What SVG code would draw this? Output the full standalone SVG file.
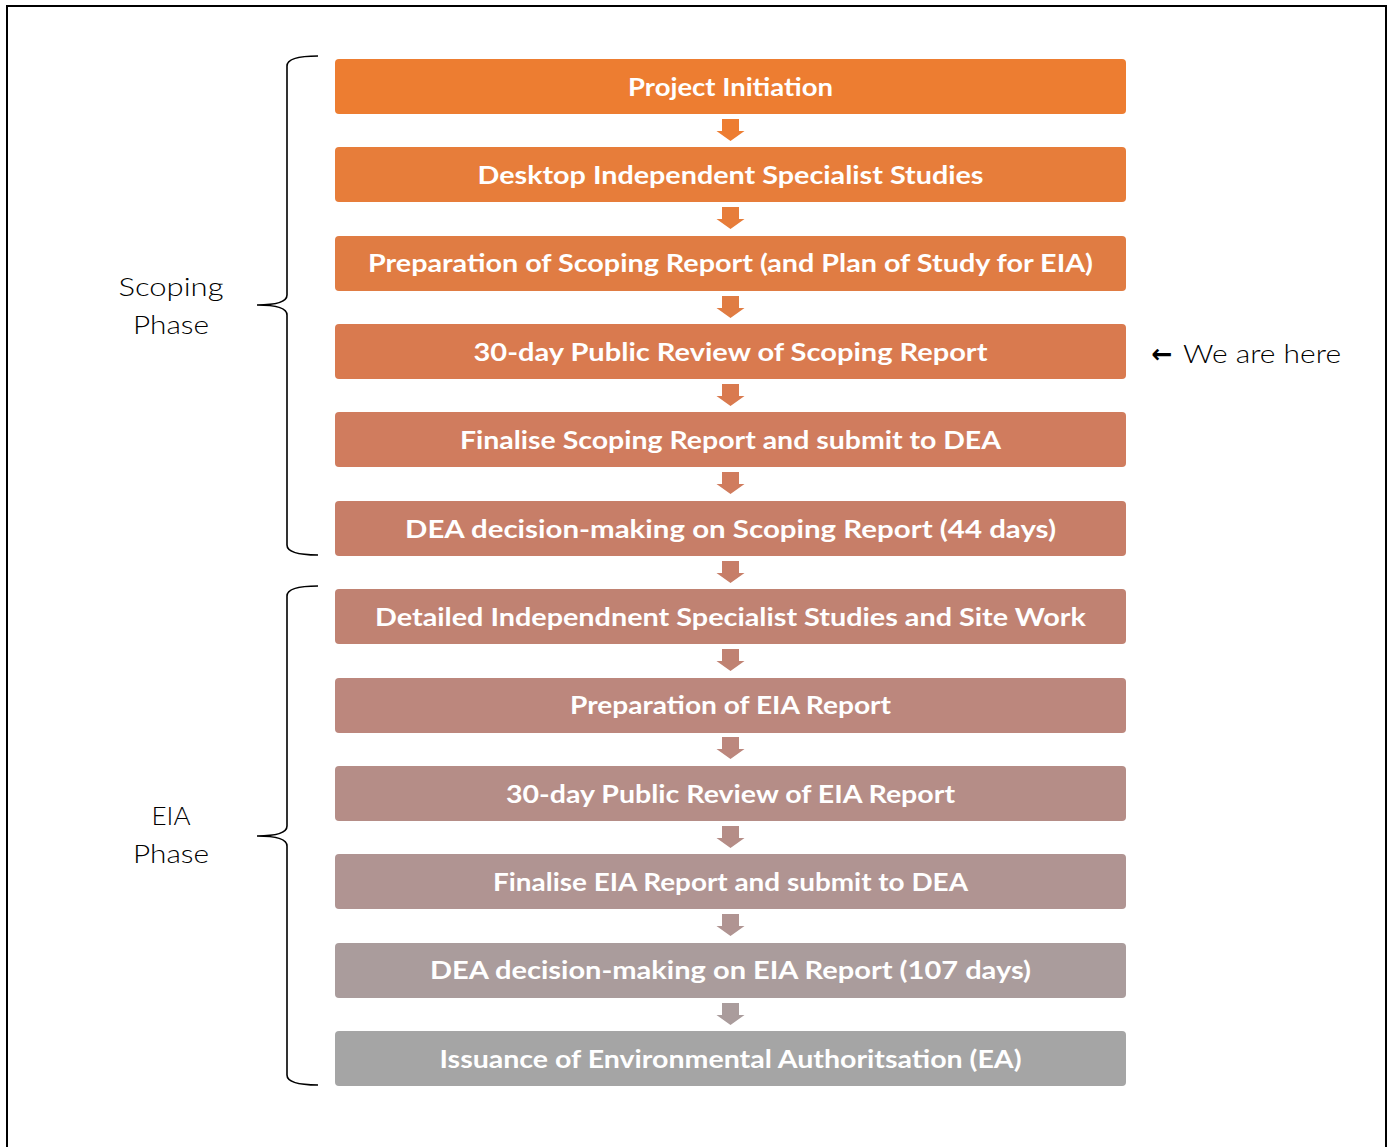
<svg xmlns="http://www.w3.org/2000/svg" width="1392" height="1147" viewBox="0 0 1392 1147">
<style>
.box{stroke:none}
.bt{font-family:"Century Gothic","Lato","Open Sans",sans-serif;font-weight:bold;font-size:25px;fill:#ffffff;text-anchor:middle}
.lbl{font-family:"Century Gothic","Lato","Open Sans",sans-serif;font-weight:300;font-size:26px;fill:#000000;text-anchor:middle}
.brace{fill:none;stroke:#000;stroke-width:1.6}
</style>
<defs>
<path id="arr" d="M-8.5,0 H8.5 V12 H14 L0,22 L-14,12 H-8.5 Z"/>
</defs>
<rect x="0" y="0" width="1392" height="1147" fill="#fff"/>
<rect x="7" y="6" width="1379" height="1160" fill="none" stroke="#000" stroke-width="2"/>

<g id="braces">
<path class="brace" d="M318,56 Q287,56 287,66 L287,295 Q287,305 257,305 Q287,305 287,315 L287,545 Q287,555 318,555"/>
<path class="brace" d="M318,586 Q287,586 287,596 L287,826 Q287,836 257,836 Q287,836 287,846 L287,1075 Q287,1085 318,1085"/>
</g>
<g id="phase-labels">
<text class="lbl" x="171" y="296" textLength="105" lengthAdjust="spacingAndGlyphs">Scoping</text>
<text class="lbl" x="171" y="334" textLength="76" lengthAdjust="spacingAndGlyphs">Phase</text>
<text class="lbl" x="171" y="825" textLength="39" lengthAdjust="spacingAndGlyphs">EIA</text>
<text class="lbl" x="171" y="863" textLength="76" lengthAdjust="spacingAndGlyphs">Phase</text>
</g>

<g id="connectors">
<use href="#arr" x="730.5" y="119" fill="#ED7D31"/>
<use href="#arr" x="730.5" y="207" fill="#E77D3A"/>
<use href="#arr" x="730.5" y="296" fill="#E07C43"/>
<use href="#arr" x="730.5" y="384" fill="#D97A4F"/>
<use href="#arr" x="730.5" y="472" fill="#D07C5E"/>
<use href="#arr" x="730.5" y="561" fill="#C77E68"/>
<use href="#arr" x="730.5" y="649" fill="#C08272"/>
<use href="#arr" x="730.5" y="737" fill="#BC877D"/>
<use href="#arr" x="730.5" y="826" fill="#B58D87"/>
<use href="#arr" x="730.5" y="914" fill="#B09492"/>
<use href="#arr" x="730.5" y="1003" fill="#AA9C9C"/>
</g>

<g id="n1"><rect class="box" x="335" y="59" width="791" height="55" rx="4" fill="#ED7D31"/><text class="bt" x="730.5" y="96" textLength="205" lengthAdjust="spacingAndGlyphs">Project Initiation</text></g>
<g id="n2"><rect class="box" x="335" y="147" width="791" height="55" rx="4" fill="#E77D3A"/><text class="bt" x="730.5" y="184" textLength="506" lengthAdjust="spacingAndGlyphs">Desktop Independent Specialist Studies</text></g>
<g id="n3"><rect class="box" x="335" y="236" width="791" height="55" rx="4" fill="#E07C43"/><text class="bt" x="730.5" y="272" textLength="725" lengthAdjust="spacingAndGlyphs">Preparation of Scoping Report (and Plan of Study for EIA)</text></g>
<g id="n4"><rect class="box" x="335" y="324" width="791" height="55" rx="4" fill="#D97A4F"/><text class="bt" x="730.5" y="361" textLength="514" lengthAdjust="spacingAndGlyphs">30-day Public Review of Scoping Report</text></g>
<g id="n5"><rect class="box" x="335" y="412" width="791" height="55" rx="4" fill="#D07C5E"/><text class="bt" x="730.5" y="449" textLength="541" lengthAdjust="spacingAndGlyphs">Finalise Scoping Report and submit to DEA</text></g>
<g id="n6"><rect class="box" x="335" y="501" width="791" height="55" rx="4" fill="#C77E68"/><text class="bt" x="730.5" y="538" textLength="651" lengthAdjust="spacingAndGlyphs">DEA decision-making on Scoping Report (44 days)</text></g>
<g id="n7"><rect class="box" x="335" y="589" width="791" height="55" rx="4" fill="#C08272"/><text class="bt" x="730.5" y="626" textLength="711" lengthAdjust="spacingAndGlyphs">Detailed Independnent Specialist Studies and Site Work</text></g>
<g id="n8"><rect class="box" x="335" y="678" width="791" height="55" rx="4" fill="#BC877D"/><text class="bt" x="730.5" y="714" textLength="321" lengthAdjust="spacingAndGlyphs">Preparation of EIA Report</text></g>
<g id="n9"><rect class="box" x="335" y="766" width="791" height="55" rx="4" fill="#B58D87"/><text class="bt" x="730.5" y="803" textLength="449" lengthAdjust="spacingAndGlyphs">30-day Public Review of EIA Report</text></g>
<g id="n10"><rect class="box" x="335" y="854" width="791" height="55" rx="4" fill="#B09492"/><text class="bt" x="730.5" y="891" textLength="475" lengthAdjust="spacingAndGlyphs">Finalise EIA Report and submit to DEA</text></g>
<g id="n11"><rect class="box" x="335" y="943" width="791" height="55" rx="4" fill="#AA9C9C"/><text class="bt" x="730.5" y="979" textLength="601" lengthAdjust="spacingAndGlyphs">DEA decision-making on EIA Report (107 days)</text></g>
<g id="n12"><rect class="box" x="335" y="1031" width="791" height="55" rx="4" fill="#A5A5A5"/><text class="bt" x="730.5" y="1068" textLength="582" lengthAdjust="spacingAndGlyphs">Issuance of Environmental Authoritsation (EA)</text></g>

<g id="here">
<text class="lbl" x="1162" y="363" textLength="21" lengthAdjust="spacingAndGlyphs" style="font-family:'DejaVu Sans',sans-serif;font-weight:bold;font-size:26px">←</text>
<text class="lbl" x="1262" y="363" textLength="158" lengthAdjust="spacingAndGlyphs">We are here</text>
</g>
</svg>
